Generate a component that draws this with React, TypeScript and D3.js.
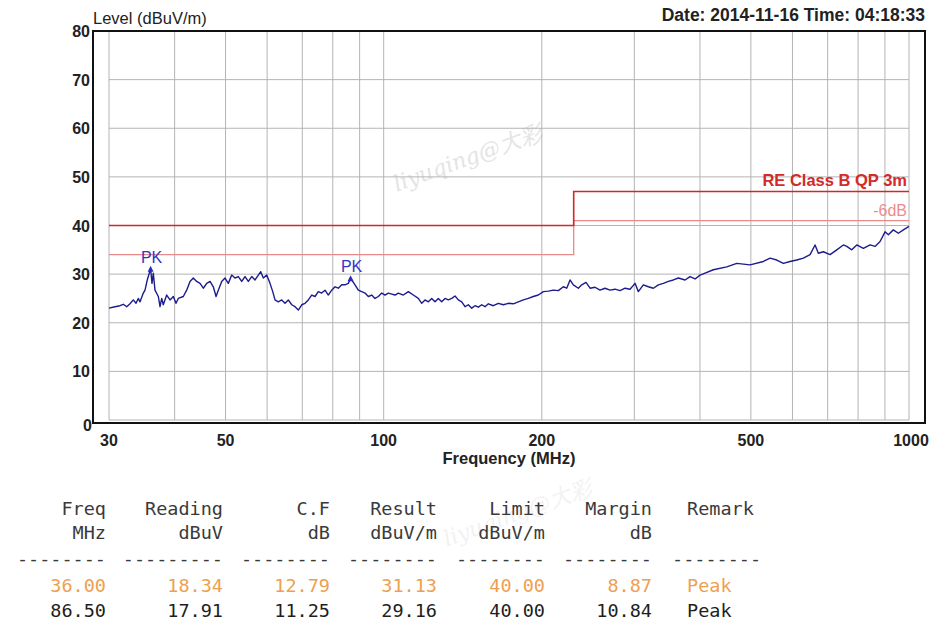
import React from "react";
import * as d3 from "d3";

// ---- data ----
const FREQ = [30.0, 30.8, 31.48, 31.94, 32.42, 32.89, 33.37, 33.77, 34.11, 34.37, 34.87, 35.13, 35.48, 36.0, 36.22, 36.43, 36.7, 37.24, 37.52, 37.8, 38.06, 38.63, 39.2, 39.77, 40.24, 40.65, 41.55, 42.17, 42.79, 43.41, 44.06, 44.71, 45.36, 46.04, 46.71, 47.39, 47.96, 48.44, 49.17, 49.88, 50.61, 51.37, 52.12, 52.88, 53.67, 54.46, 55.25, 56.08, 56.9, 57.73, 58.34, 59.0, 59.89, 60.76, 61.49, 62.11, 63.01, 63.96, 64.89, 65.84, 66.83, 67.8, 68.79, 69.82, 70.84, 71.87, 72.95, 74.01, 75.09, 76.22, 77.33, 78.45, 79.63, 80.79, 81.97, 83.2, 84.41, 85.64, 86.5, 88.19, 89.48, 90.82, 92.15, 93.49, 94.89, 96.27, 97.68, 99.14, 100.59, 102.05, 103.59, 105.1, 106.63, 108.99, 111.41, 113.87, 116.4, 118.15, 119.87, 121.61, 123.44, 125.24, 127.06, 128.97, 130.85, 132.76, 134.75, 136.71, 138.71, 140.79, 142.84, 144.92, 147.1, 149.24, 151.42, 153.69, 155.93, 158.2, 161.71, 165.29, 168.95, 172.7, 176.53, 180.44, 184.44, 188.52, 192.7, 196.97, 201.34, 205.8, 210.36, 215.02, 219.79, 223.09, 226.34, 229.64, 234.72, 238.25, 242.78, 247.08, 252.55, 258.15, 263.87, 269.72, 275.69, 281.8, 288.05, 294.43, 300.95, 305.34, 312.11, 319.02, 326.09, 333.32, 340.7, 348.25, 355.97, 363.86, 374.71, 383.01, 391.5, 400.17, 409.04, 424.19, 449.86, 470.02, 498.23, 528.14, 543.88, 560.09, 576.54, 593.72, 611.42, 629.37, 648.12, 662.49, 672.15, 687.03, 707.52, 728.61, 749.97, 761.25, 778.11, 795.36, 818.7, 843.09, 861.78, 880.86, 900.39, 913.5, 933.75, 954.45, 975.6, 1000];
const LEVEL = [23.0, 23.3, 23.5, 23.8, 23.3, 23.9, 24.7, 24.0, 25.0, 24.3, 26.1, 26.7, 28.8, 31.13, 28.1, 30.2, 26.7, 25.4, 23.3, 25.0, 23.7, 25.7, 24.7, 25.4, 24.0, 25.0, 25.4, 26.7, 28.5, 29.2, 28.5, 28.1, 27.1, 28.1, 28.5, 27.4, 25.4, 26.7, 28.5, 29.2, 28.1, 29.8, 29.2, 29.5, 28.5, 29.5, 28.5, 29.5, 28.8, 29.8, 30.5, 29.2, 29.8, 28.1, 26.4, 24.7, 24.3, 24.7, 24.0, 24.7, 23.7, 23.3, 22.6, 23.7, 24.0, 24.7, 25.7, 25.4, 26.4, 26.1, 26.7, 25.7, 26.7, 27.4, 27.1, 27.8, 27.8, 28.1, 29.16, 27.8, 26.7, 26.4, 26.1, 25.4, 25.7, 25.0, 25.4, 26.1, 25.7, 26.1, 25.9, 25.7, 26.1, 25.7, 26.4, 25.7, 25.0, 24.0, 24.7, 24.3, 25.0, 24.3, 25.0, 24.3, 25.0, 24.7, 25.0, 25.5, 24.7, 24.3, 23.3, 23.7, 23.0, 23.5, 23.2, 23.7, 23.3, 23.9, 23.5, 24.0, 23.7, 24.0, 23.9, 24.3, 24.7, 25.0, 25.4, 25.7, 26.4, 26.5, 26.7, 26.6, 27.4, 27.1, 28.8, 27.8, 27.1, 27.8, 28.3, 27.1, 27.3, 26.7, 27.1, 26.7, 26.9, 26.6, 27.1, 26.9, 28.1, 26.4, 27.8, 27.4, 27.1, 27.8, 28.1, 28.5, 28.8, 29.2, 28.8, 29.5, 29.0, 29.8, 30.2, 30.9, 31.5, 32.2, 31.9, 32.6, 33.3, 32.9, 32.2, 32.6, 32.9, 33.3, 34.0, 36.0, 34.3, 34.6, 34.0, 35.0, 36.0, 35.7, 35.0, 36.0, 35.3, 36.0, 35.7, 36.7, 38.7, 38.1, 39.1, 38.4, 39.1, 39.8];

const LIMIT_FREQ = [30, 230, 230, 1000];
const LIMIT_LEVEL = [40, 40, 47, 47];
const MARGIN_LEVEL = [34, 34, 41, 41];

const Y_TICKS = [0, 10, 20, 30, 40, 50, 60, 70, 80];
const X_LABELS = [30, 50, 100, 200, 500, 1000];
const X_GRID = [30, 40, 50, 60, 70, 80, 90, 100, 200, 300, 400, 500, 600, 700, 800, 900, 1000];

const PEAK_FREQ = [36.0, 86.5];
const PEAK_LEVEL = [31.13, 29.16];

const HEAD1 = ["Freq", "Reading", "C.F", "Result", "Limit", "Margin", "Remark"];
const HEAD2 = ["MHz", "dBuV", "dB", "dBuV/m", "dBuV/m", "dB", ""];
const DASHES = ["--------", "---------", "--------", "--------", "--------", "--------", "--------"];
const ROW1 = ["36.00", "18.34", "12.79", "31.13", "40.00", "8.87", "Peak"];
const ROW2 = ["86.50", "17.91", "11.25", "29.16", "40.00", "10.84", "Peak"];

const TITLE_Y = "Level (dBuV/m)";
const TITLE_X = "Frequency (MHz)";
const DATE_TEXT = "Date: 2014-11-16  Time: 04:18:33";
const LIMIT_LABEL = "RE Class B QP 3m";
const MARGIN_LABEL = "-6dB";
const WATERMARK = "liyuqing@大彩";

export default function App() {
  const W = 934, H = 628;
  const frame = { l: 93, t: 31, r: 925, b: 423 };
  const x = d3.scaleLog().domain([30, 1000]).range([109, 909]);
  const y = d3.scaleLinear().domain([0, 80]).range([420, 31]);

  const trace = d3.line<number>().x((_, i) => x(FREQ[i])).y((v) => y(v))(LEVEL) || "";
  const limitPath = d3.line<number>().x((_, i) => x(LIMIT_FREQ[i])).y((v) => y(v))(LIMIT_LEVEL) || "";
  const marginPath = d3.line<number>().x((_, i) => x(LIMIT_FREQ[i])).y((v) => y(v))(MARGIN_LEVEL) || "";

  const sans = "'Liberation Sans', Arial, sans-serif";
  const mono = "'DejaVu Sans Mono', 'Liberation Mono', monospace";

  // table column anchors
  const colRight = [106, 223, 330, 437, 545, 652];
  const remarkX = 687;
  const rowY = [515, 539, 565, 592, 617];
  const rowColor = ["#3a3a3a", "#3a3a3a", "#3a3a3a", "#eea050", "#1e1e1e"];
  const rows = [HEAD1, HEAD2, DASHES, ROW1, ROW2];

  return (
    <svg width={W} height={H} style={{ position: "absolute", left: 0, top: 0, background: "#fff" }}>
      <rect x={0} y={0} width={W} height={H} fill="#fff" />

      {/* watermarks */}
      <text x={470} y={165} transform="rotate(-20 470 165)" fontFamily="'DejaVu Serif', serif" fontStyle="italic" fontSize={22} fill="#e4e4e4" textAnchor="middle">{WATERMARK}</text>
      <text x={520} y={520} transform="rotate(-20 520 520)" fontFamily="'DejaVu Serif', serif" fontStyle="italic" fontSize={22} fill="#f2f2f2" textAnchor="middle">{WATERMARK}</text>

      {/* grid */}
      {X_GRID.map((f) => (
        <line key={"vx" + f} x1={x(f)} x2={x(f)} y1={frame.t} y2={y(0)} stroke="#b4b4b4" strokeWidth={1} />
      ))}
      {Y_TICKS.filter((v) => v < 80).map((v) => (
        <line key={"hy" + v} x1={x(30)} x2={x(1000)} y1={y(v)} y2={y(v)} stroke="#b4b4b4" strokeWidth={1} />
      ))}

      {/* frame */}
      <rect x={frame.l} y={frame.t} width={frame.r - frame.l} height={frame.b - frame.t} fill="none" stroke="#111" strokeWidth={2} />

      {/* limit lines */}
      <path d={marginPath} fill="none" stroke="#e88a8a" strokeWidth={1.3} />
      <path d={limitPath} fill="none" stroke="#d42626" strokeWidth={1.6} />
      <text x={907} y={186} textAnchor="end" fontFamily={sans} fontWeight="bold" fontSize={16.5} fill="#d42a2a">{LIMIT_LABEL}</text>
      <text x={907} y={216} textAnchor="end" fontFamily={sans} fontSize={16} fill="#ee8c8c">{MARGIN_LABEL}</text>

      {/* trace */}
      <path d={trace} fill="none" stroke="#1c1c8c" strokeWidth={1.4} strokeLinejoin="round" />

      {/* peaks */}
      {PEAK_FREQ.map((f, i) => (
        <g key={"pk" + i}>
          <path d={`M${x(f) - 3},${y(PEAK_LEVEL[i]) + 3}L${x(f) + 3},${y(PEAK_LEVEL[i]) + 3}L${x(f)},${y(PEAK_LEVEL[i]) - 3}Z`} fill="#2a2ab8" />
          <text x={x(f) + 1} y={y(PEAK_LEVEL[i]) - 6} textAnchor="middle" fontFamily={sans} fontSize={16} fill="#3434c4">PK</text>
        </g>
      ))}

      {/* y tick labels */}
      {Y_TICKS.map((v) => (
        <text key={"yt" + v} x={v === 0 ? 92 : 90} y={(v === 0 ? 425 : y(v)) + 6} textAnchor="end" fontFamily={sans} fontWeight="bold" fontSize={16} fill="#222">{v}</text>
      ))}
      {/* x tick labels */}
      {X_LABELS.map((f) => (
        <text key={"xt" + f} x={f === 1000 ? x(f) + 2 : x(f)} y={446} textAnchor="middle" fontFamily={sans} fontWeight="bold" fontSize={16} fill="#222">{f}</text>
      ))}

      {/* titles */}
      <text x={93} y={24} fontFamily={sans} fontSize={16.5} fill="#222">{TITLE_Y}</text>
      <text x={925} y={21} textAnchor="end" fontFamily={sans} fontWeight="bold" fontSize={17.5} fill="#222">{DATE_TEXT}</text>
      <text x={(frame.l + frame.r) / 2} y={464} textAnchor="middle" fontFamily={sans} fontWeight="bold" fontSize={16.5} fill="#222">{TITLE_X}</text>

      {/* table */}
      {rows.map((row, ri) => (
        <g key={"row" + ri} fill={rowColor[ri]} fontFamily={mono} fontSize={18.5}>
          {row.map((cell, ci) =>
            ci < 6 ? (
              <text key={ci} x={colRight[ci]} y={rowY[ri]} textAnchor="end">{cell}</text>
            ) : (
              <text key={ci} x={ri === 2 ? 672 : remarkX} y={rowY[ri]}>{cell}</text>
            )
          )}
        </g>
      ))}
    </svg>
  );
}
